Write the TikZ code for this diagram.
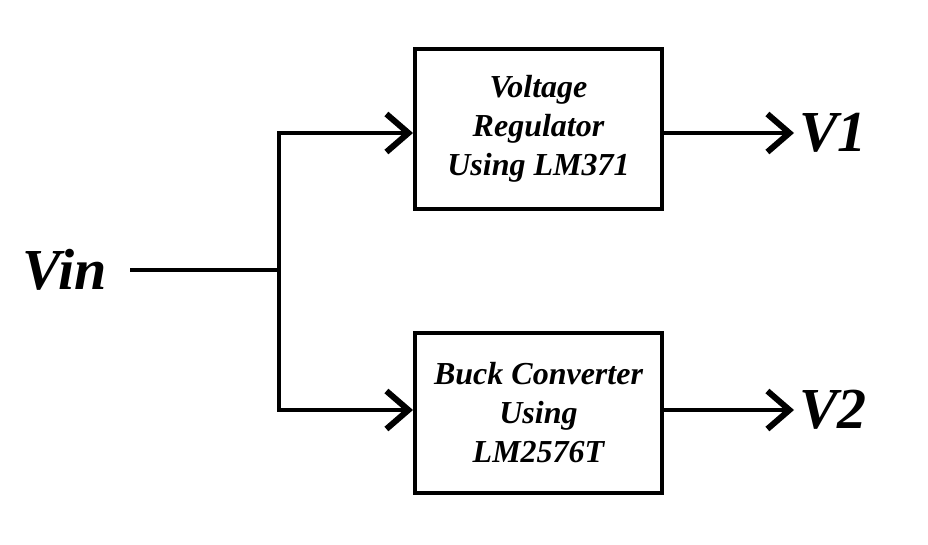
\documentclass[tikz,border=0pt]{standalone}
\usepackage{fontspec}
\setmainfont{Liberation Serif}
\usetikzlibrary{arrows.meta}
\begin{document}
\begin{tikzpicture}[x=1pt,y=-1pt,
  blk/.style={draw,line width=4pt,minimum width=247pt,minimum height=160pt,inner sep=0pt,align=center,font=\fontsize{32}{39}\selectfont\bfseries\itshape},
  lbl/.style={inner sep=0pt,font=\fontsize{58}{60}\selectfont\bfseries\itshape},
  wire/.style={line width=4pt},
  arr/.style={line width=4pt,-{Straight Barb[length=22pt,width=38pt,line width=6pt]}}]
\useasboundingbox (0,0) rectangle (928,544);
\node[blk] (reg) at (538.5,129) {Voltage\\Regulator\\Using LM371};
\node[blk] (buck) at (538.5,412.5) {Buck Converter\\Using\\LM2576T};
\node[lbl,anchor=east] (vin) at (107,270) {Vin};
\node[lbl,anchor=west] (v1) at (799,133) {V1};
\node[lbl,anchor=west] (v2) at (799,410) {V2};
\coordinate (j) at (279,270);
\coordinate (vs) at (130,270);
\coordinate (ot) at (794,133);
\coordinate (ob) at (794,410);
\draw[wire] (vs) -- (j);
\draw[arr] (j) |- (reg.west |- 0,133);
\draw[arr] (j) |- (buck.west |- 0,410);
\draw[arr] (reg.east |- 0,133) -- (ot);
\draw[arr] (buck.east |- 0,410) -- (ob);
\end{tikzpicture}
\end{document}
